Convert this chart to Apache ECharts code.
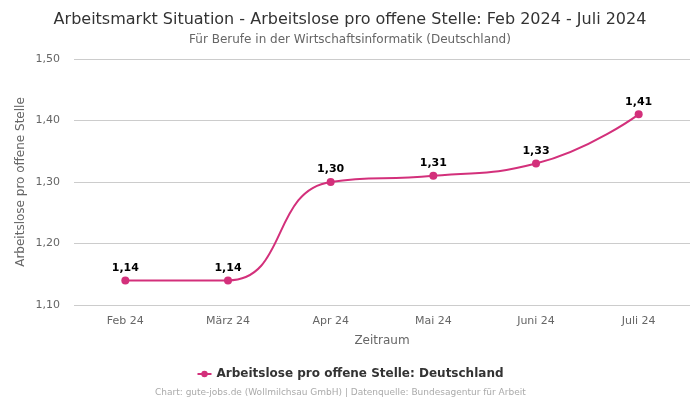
<!DOCTYPE html>
<html>
<head>
<meta charset="utf-8">
<script src="https://cdn.jsdelivr.net/npm/echarts@6/dist/echarts.min.js"></script>
<style>
  html, body { margin: 0; padding: 0; background: #fff; }
  #chart { width: 700px; height: 400px; }
</style>
</head>
<body>
<div id="chart"></div>
<script>
const categories = ['Feb 24', 'März 24', 'Apr 24', 'Mai 24', 'Juni 24', 'Juli 24'];
const values = [1.14, 1.14, 1.30, 1.31, 1.33, 1.41];
const seriesName = 'Arbeitslose pro offene Stelle: Deutschland';

const fmt = v => v.toFixed(2).replace('.', ',');
const font = 'DejaVu Sans';

const chart = echarts.init(document.getElementById('chart'));
const option = {
  textStyle: { fontFamily: font },
  title: [
    {
      text: 'Arbeitsmarkt Situation - Arbeitslose pro offene Stelle: Feb 2024 - Juli 2024',
      left: 'center', top: 7,
      textStyle: { fontSize: 16, fontWeight: 'normal', color: '#333', fontFamily: font }
    },
    {
      text: 'Für Berufe in der Wirtschaftsinformatik (Deutschland)',
      left: 'center', top: 29,
      textStyle: { fontSize: 12, fontWeight: 'normal', color: '#666', fontFamily: font }
    },
    {
      text: 'Chart: gute-jobs.de (Wollmilchsau GmbH) | Datenquelle: Bundesagentur für Arbeit',
      left: 150, top: 383,
      textStyle: { fontSize: 9, fontWeight: 'normal', color: '#aaa', fontFamily: font }
    }
  ],
  legend: {
    data: [seriesName],
    top: 363, left: 'center',
    itemWidth: 14, itemHeight: 8,
    textStyle: { fontSize: 12, fontWeight: 'bold', color: '#333', fontFamily: font }
  },
  grid: { left: 74, right: 10, top: 59, bottom: 95 },
  xAxis: {
    type: 'category',
    data: categories,
    boundaryGap: true,
    name: 'Zeitraum',
    nameLocation: 'middle',
    nameGap: 30,
    nameTextStyle: { fontSize: 12, color: '#666' },
    axisLine: { show: false },
    axisTick: { show: false },
    axisLabel: { fontSize: 11, color: '#666', margin: 11 }
  },
  yAxis: {
    type: 'value',
    min: 1.1, max: 1.5, interval: 0.1,
    name: 'Arbeitslose pro offene Stelle',
    nameLocation: 'middle',
    nameGap: 47,
    nameMoveOverlap: false,
    nameTextStyle: { fontSize: 12, color: '#666' },
    axisLabel: { fontSize: 11, color: '#666', formatter: v => fmt(v), margin: 14 },
    splitLine: { lineStyle: { color: '#ccc' } }
  },
  series: [{
    name: seriesName,
    type: 'line',
    data: values,
    smooth: true,
    symbol: 'circle',
    symbolSize: 8,
    itemStyle: { color: '#d3307b' },
    lineStyle: { color: '#d3307b', width: 2 },
    label: {
      show: true, position: 'top', distance: 3,
      fontSize: 11, fontWeight: 'bold', color: '#000',
      formatter: p => fmt(p.value)
    }
  }]
};
chart.setOption(option);
</script>
</body>
</html>
